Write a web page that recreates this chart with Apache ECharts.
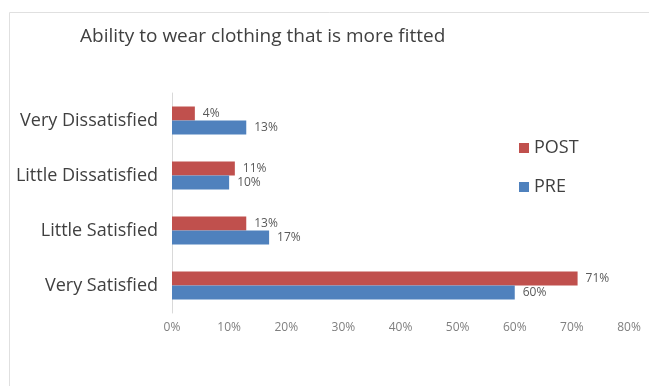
<!DOCTYPE html>
<html>
<head>
<meta charset="utf-8">
<script src="https://cdn.jsdelivr.net/npm/echarts@6/dist/echarts.min.js"></script>
<style>
  html, body { margin: 0; padding: 0; background: #fff; }
  #chart { width: 649px; height: 386px; }
</style>
</head>
<body>
<div id="chart"></div>
<script>
// categories top to bottom
var categories = ['Very Dissatisfied', 'Little Dissatisfied', 'Little Satisfied', 'Very Satisfied']
var postValues = [4, 11, 13, 71]
var preValues = [13, 10, 17, 60]
var xTicks = [0, 10, 20, 30, 40, 50, 60, 70, 80]

var chart = echarts.init(document.getElementById('chart'))
var font = 'Open Sans'

var labelStyle = {
  show: true,
  position: 'right',
  distance: 8,
  formatter: '{c}%',
  color: '#595959',
  fontSize: 12,
  fontFamily: font
}

var option = {
  animation: false,
  backgroundColor: '#fff',
  title: {
    text: 'Ability to wear clothing that is more fitted',
    left: 75,
    top: 22,
    textStyle: {
      fontFamily: font,
      fontSize: 19,
      fontWeight: 'normal',
      color: '#404040'
    }
  },
  graphic: [{
    type: 'rect',
    shape: { x: 9.5, y: 12.5, width: 660, height: 400 },
    style: { fill: 'none', stroke: '#e0e0e0', lineWidth: 1 },
    silent: true
  }],
  legend: {
    orient: 'vertical',
    left: 514,
    top: 134,
    itemWidth: 10,
    itemHeight: 10,
    itemGap: 21,
    icon: 'rect',
    data: ['POST', 'PRE'],
    textStyle: {
      fontFamily: font,
      fontSize: 18,
      color: '#404040'
    }
  },
  grid: {
    left: 172,
    right: 20,
    top: 93,
    bottom: 73,
    containLabel: false
  },
  xAxis: {
    type: 'value',
    min: 0,
    max: 80,
    interval: 10,
    axisLine: { show: false },
    axisTick: { show: false },
    splitLine: { show: false },
    axisLabel: {
      formatter: function (v) { return xTicks.indexOf(v) >= 0 ? v + '%' : '' },
      color: '#7f7f7f',
      fontSize: 12,
      fontFamily: font,
      margin: 9
    }
  },
  yAxis: {
    type: 'category',
    inverse: true,
    data: categories,
    axisLine: { show: true, lineStyle: { color: '#d9d9d9' } },
    axisTick: { show: false },
    axisLabel: {
      color: '#404040',
      fontSize: 18,
      fontFamily: font,
      margin: 14
    }
  },
  series: [
    {
      name: 'POST',
      type: 'bar',
      data: postValues,
      barWidth: 14,
      barGap: '0%',
      itemStyle: { color: '#C0504D' },
      label: labelStyle
    },
    {
      name: 'PRE',
      type: 'bar',
      data: preValues,
      barWidth: 14,
      barGap: '0%',
      itemStyle: { color: '#4F81BD' },
      label: labelStyle
    }
  ]
}

chart.setOption(option)
window.addEventListener('resize', function () {
  chart.resize()
})
</script>
</body>
</html>
